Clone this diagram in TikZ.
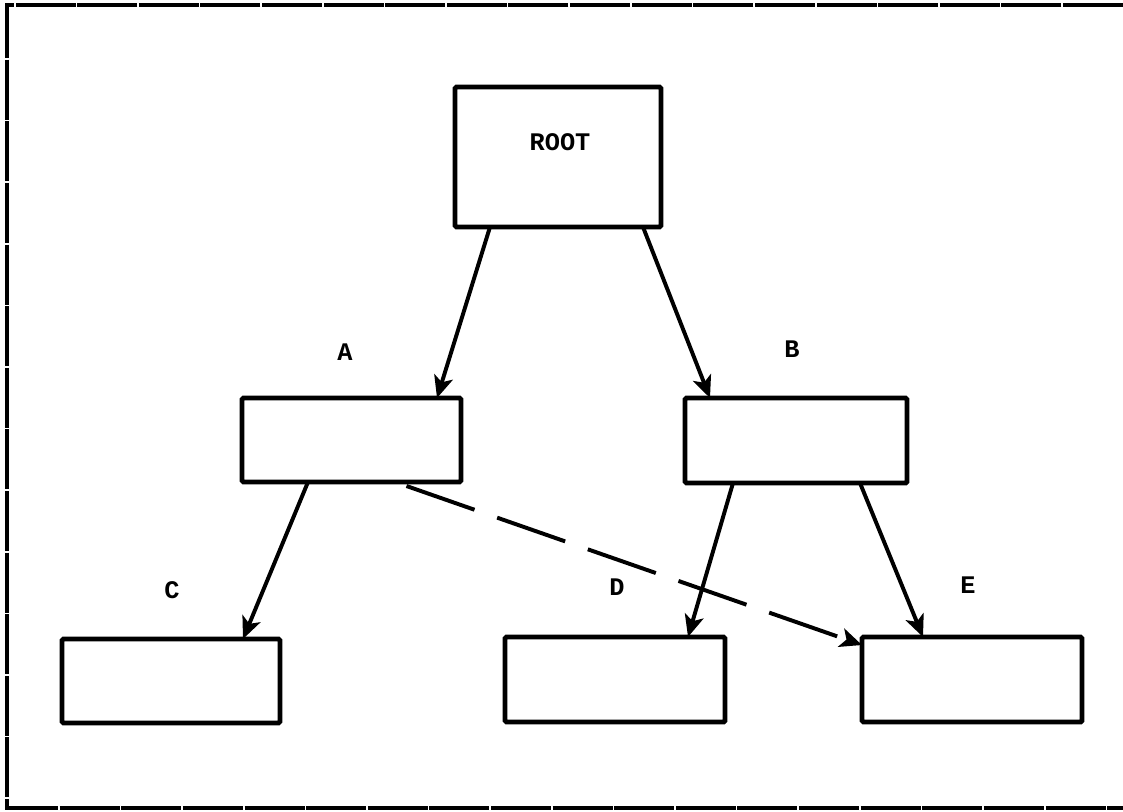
\documentclass[tikz,border=0pt]{standalone}
\usepackage{fontspec}
\setmonofont{Liberation Mono}
\usetikzlibrary{arrows.meta,calc}
\begin{document}
\begin{tikzpicture}[x=0.025cm,y=-0.025cm,
  box/.style={draw,line width=3.4pt,inner sep=0pt,outer sep=0pt,rounded corners=1pt},
  lbl/.style={font=\ttfamily\bfseries\fontsize{18}{20}\selectfont,inner sep=0pt},
  arr/.style={line width=2.8pt,-{Stealth[length=0.55cm,width=0.48cm,inset=0.14cm]}},
  darr/.style={arr,dash pattern=on 1.8cm off 0.6cm},
  frame/.style={line width=2.2pt,dash pattern=on 1.5cm off 0.04cm}]
\useasboundingbox (0,0) rectangle (1123,811);
% frame
\coordinate (f1) at (1123,5);
\coordinate (f2) at (7,5);
\coordinate (f3) at (7,808);
\coordinate (f4) at (1123,808);
\draw[frame] (f1) -- (f2) -- (f3) -- (f4);
% boxes
\node[box,minimum width={206*0.025cm},minimum height={140*0.025cm}] (root) at (558,157) {};
\node[box,minimum width={219*0.025cm},minimum height={84*0.025cm}] (A) at (351.5,440) {};
\node[box,minimum width={222*0.025cm},minimum height={85*0.025cm}] (B) at (796,440.5) {};
\node[box,minimum width={218*0.025cm},minimum height={84*0.025cm}] (C) at (171,681) {};
\node[box,minimum width={220*0.025cm},minimum height={85*0.025cm}] (D) at (615,679.5) {};
\node[box,minimum width={220*0.025cm},minimum height={85*0.025cm}] (E) at (972,679.5) {};
% texts
\node[lbl] (troot) at (560,142) {ROOT};
\node[lbl] (tA) at (345,352) {A};
\node[lbl] (tB) at (792,349) {B};
\node[lbl] (tC) at (172,590) {C};
\node[lbl] (tD) at (617,587) {D};
\node[lbl] (tE) at (968,585) {E};
% connectors
\draw[arr] ($(root.south)+(-68,0)$) -- ($(A.north)+(85.5,0)$);
\draw[arr] ($(root.south)+(85,0)$) -- ($(B.north)+(-86,0)$);
\draw[arr] ($(A.south)+(-43.5,0)$) -- ($(C.north)+(72,0)$);
\draw[arr] ($(B.south)+(-63,0)$) -- ($(D.north)+(73,0)$);
\draw[arr] ($(B.south)+(64,0)$) -- ($(E.north)+(-49,0)$);
\draw[darr] ($(A.south)+(55,4)$) -- ($(E.north west)+(0,8)$);
\end{tikzpicture}
\end{document}
